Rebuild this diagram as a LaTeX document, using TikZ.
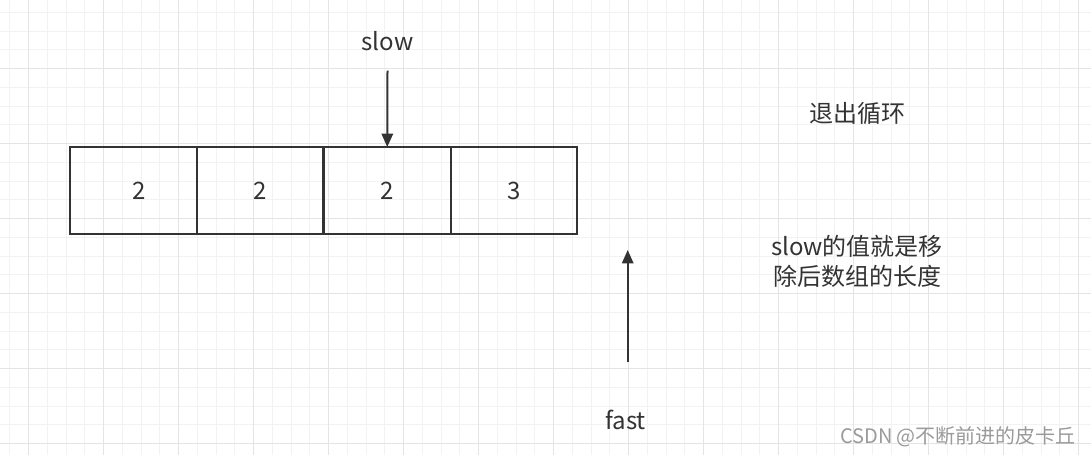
\documentclass[tikz,border=0pt]{standalone}
\usepackage{fontspec}
\setmainfont{Noto Sans CJK SC}
\usetikzlibrary{arrows.meta}
\definecolor{minorgrid}{HTML}{F2F2F2}
\definecolor{majorgrid}{HTML}{E4E4E4}
\definecolor{ink}{HTML}{333333}
\definecolor{wm}{HTML}{9A9A9A}
\begin{document}
\begin{tikzpicture}[x=0.75pt,y=-0.75pt,
  cell/.style={draw=ink,line width=1.6pt,minimum width=95.25pt,minimum height=65.25pt,inner sep=0pt,outer sep=0pt,font=\fontsize{18pt}{22pt}\selectfont,text=ink},
  label/.style={font=\fontsize{18pt}{22.5pt}\selectfont,text=ink,inner sep=0pt,align=center},
  ptr/.style={draw=ink,line width=1.5pt,-{Triangle[length=10pt,width=8.5pt]}}]
\useasboundingbox (0,0) rectangle (1091,455);
\fill[white] (0,0) rectangle (1091,455);
% grid
\foreach \i in {0,...,58} {\draw[minorgrid,line width=0.75pt] ({9.95+18.75*\i},0) -- ({9.95+18.75*\i},455);}
\foreach \i in {1,...,24} {\draw[minorgrid,line width=0.75pt] (0,{-6.3+18.75*\i}) -- (1091,{-6.3+18.75*\i});}
\foreach \i in {0,...,14} {\draw[majorgrid,line width=0.75pt] ({28.7+75*\i},0) -- ({28.7+75*\i},455);}
\foreach \i in {1,...,6} {\draw[majorgrid,line width=0.75pt] (0,{-6.3+75*\i}) -- (1091,{-6.3+75*\i});}
% cells
\node[cell] (c1) at (133.5,190.5) {\hspace*{8.25pt}2};
\node[cell,minimum width=94.9pt] (c2) at (260.25,190.5) {2};
\node[cell] (c3) at (387.25,190.5) {2};
\node[cell,minimum width=94.5pt] (c4) at (514,190.5) {3};
% slow pointer
\node[label] (slow) at (387.5,40.7) {slow};
\coordinate (s0) at (387.5,70.7);
\draw[ptr] (s0) -- (c3.north);
% fast pointer
\node[label] (fast) at (625.7,420) {fast};
\coordinate (f0) at (627.7,362);
\coordinate (f1) at (627.7,250);
\draw[ptr] (f0) -- (f1);
% notes
\node[label] (exit) at (857,113) {退出循环};
\node[label] (note) at (857,261) {slow的值就是移\\除后数组的长度};
% watermark
\node[font=\fontsize{15pt}{18pt}\selectfont,text=wm,inner sep=0pt] (wmk) at (958,437) {CSDN @不断前进的皮卡丘};
\end{tikzpicture}
\end{document}
